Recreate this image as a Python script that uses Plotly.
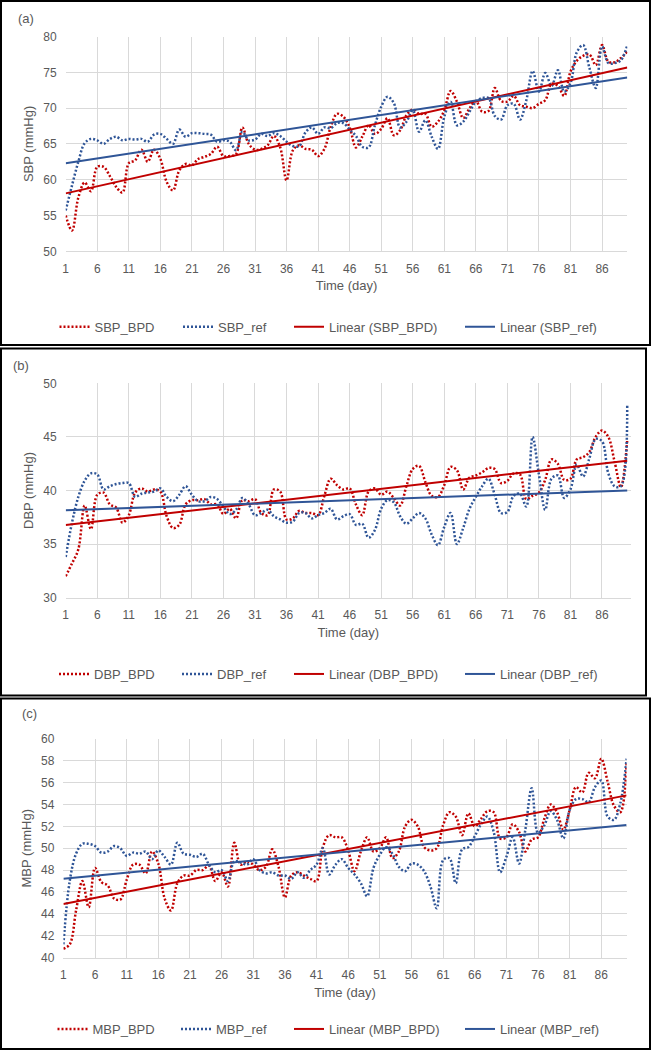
import plotly.graph_objects as go
import numpy as np

days = list(range(1, 91))
tick_days = [1, 6, 11, 16, 21, 26, 31, 36, 41, 46, 51, 56, 61, 66, 71, 76, 81, 86]

sbp_bpd = [55.0, 52.9, 57.5, 59.6, 58.4, 61.8, 61.8, 60.5, 59.0, 58.2,
           62.3, 62.7, 64.2, 62.5, 64.2, 62.9, 59.7, 58.5, 61.3, 62.2,
           62.0, 62.9, 63.2, 63.6, 64.6, 63.3, 63.3, 63.6, 67.3, 65.0,
           64.2, 64.3, 64.8, 66.1, 64.5, 59.9, 64.1, 64.8, 64.3, 64.2,
           63.3, 64.3, 67.4, 69.2, 68.8, 67.3, 64.5, 66.0, 67.6, 66.4,
           67.1, 68.6, 66.2, 66.9, 69.0, 69.8, 69.2, 69.2, 67.4, 68.1,
           69.7, 72.4, 70.9, 68.6, 70.0, 71.0, 69.5, 69.6, 72.8, 71.0,
           70.9, 71.7, 70.4, 70.2, 70.0, 70.6, 71.1, 73.4, 73.1, 71.7,
           75.1, 76.6, 77.3, 77.5, 76.0, 78.8, 76.5, 76.4, 77.0, 77.9]
sbp_ref = [55.7, 59.2, 62.5, 65.1, 65.7, 65.5, 65.0, 65.7, 66.0, 65.5,
           65.7, 65.6, 65.7, 65.3, 66.3, 66.4, 65.7, 65.0, 67.0, 66.0,
           66.5, 66.5, 66.4, 66.3, 65.3, 65.5, 65.3, 64.1, 66.7, 65.5,
           65.6, 66.4, 66.1, 66.5, 66.1, 65.3, 64.7, 64.7, 66.6, 67.3,
           66.4, 67.3, 67.2, 67.9, 67.9, 67.0, 66.1, 64.6, 64.5, 67.6,
           70.2, 71.6, 70.7, 67.3, 68.1, 69.7, 66.7, 68.3, 66.0, 64.3,
           68.8, 70.9, 67.6, 68.1, 69.5, 70.9, 71.4, 71.4, 68.9, 68.4,
           70.4, 70.6, 68.4, 71.1, 75.2, 72.3, 74.9, 73.1, 75.3, 72.3,
           73.5, 77.8, 78.8, 75.6, 72.8, 78.6, 76.3, 76.3, 76.7, 78.8]

dbp_bpd = [32.0, 33.2, 34.5, 38.6, 36.4, 39.6, 39.8, 38.7, 38.4, 37.0,
           37.7, 39.8, 40.2, 39.9, 40.1, 39.9, 37.6, 36.5, 36.8, 38.7,
           39.1, 39.1, 39.2, 38.7, 38.7, 37.8, 38.3, 37.4, 39.1, 39.0,
           39.2, 37.9, 37.7, 40.1, 39.9, 37.3, 37.4, 38.1, 37.9, 37.9,
           37.7, 39.5, 41.1, 40.5, 40.1, 40.2, 38.7, 37.7, 39.9, 40.2,
           39.6, 39.9, 39.3, 38.6, 40.4, 42.0, 42.3, 40.8, 39.5, 39.4,
           40.5, 42.2, 41.9, 40.1, 41.2, 41.4, 41.7, 42.1, 42.0, 40.7,
           40.9, 41.6, 41.5, 39.2, 39.5, 39.8, 41.0, 42.9, 42.5, 41.0,
           41.1, 42.9, 43.1, 43.6, 45.0, 45.6, 45.0, 42.7, 40.3, 44.7]
dbp_ref = [33.8, 37.0, 39.4, 40.9, 41.6, 41.5, 40.1, 40.4, 40.6, 40.7,
           40.7, 39.4, 39.7, 39.8, 39.9, 40.2, 39.4, 39.0, 39.6, 40.4,
           39.6, 39.0, 39.0, 39.4, 39.2, 38.5, 37.8, 38.2, 39.3, 38.7,
           37.7, 37.9, 38.2, 37.6, 37.3, 37.0, 37.1, 37.9, 37.9, 37.4,
           37.7, 37.9, 38.3, 37.3, 37.6, 37.8, 36.8, 36.9, 35.6, 36.3,
           38.3, 39.1, 38.9, 37.6, 36.9, 37.4, 37.9, 37.4, 35.9, 34.9,
           36.6, 37.9, 35.0, 36.5, 38.3, 39.4, 40.4, 41.1, 39.6, 37.9,
           38.0, 39.5, 39.7, 38.5, 45.0, 41.5, 38.2, 41.1, 41.4, 39.3,
           40.1, 42.4, 41.3, 43.0, 44.8, 44.6, 41.6, 40.4, 40.4, 48.1]

mbp_bpd = [40.8, 41.2, 44.3, 47.0, 44.6, 48.2, 46.9, 46.6, 45.4, 45.3,
           47.1, 48.5, 48.5, 47.7, 49.7, 48.6, 45.4, 44.3, 46.8, 47.5,
           47.5, 48.0, 48.0, 48.4, 47.0, 47.8, 46.5, 50.5, 48.5, 48.8,
           48.5, 48.0, 48.3, 49.9, 48.3, 45.5, 47.5, 47.8, 47.5, 47.2,
           47.0, 50.1, 51.2, 51.0, 51.0, 49.8, 47.9, 49.7, 51.0, 49.7,
           50.0, 51.0, 49.1, 49.7, 52.0, 52.6, 52.0, 50.1, 49.8, 50.0,
           52.1, 53.3, 52.9, 51.2, 53.2, 52.0, 52.7, 53.4, 53.3, 50.9,
           51.0, 52.2, 51.5, 49.7, 50.8, 51.0, 52.7, 54.0, 53.3, 51.7,
           53.5, 55.6, 55.1, 56.9, 56.4, 58.2, 56.1, 53.9, 53.3, 57.8]
mbp_ref = [41.2, 47.0, 49.5, 50.4, 50.4, 50.2, 49.6, 49.7, 50.2, 50.0,
           49.3, 49.6, 49.5, 49.7, 49.0, 49.8, 49.2, 48.5, 50.5, 49.5,
           49.4, 49.2, 49.5, 48.5, 47.8, 48.0, 47.0, 48.8, 48.7, 48.5,
           49.0, 48.0, 47.7, 47.8, 47.5, 47.5, 47.2, 47.8, 47.3, 48.0,
           48.5, 50.0, 47.6, 48.5, 49.0, 48.2, 47.6, 46.8, 45.6, 48.2,
           49.4, 50.1, 49.5, 48.3, 47.9, 48.6, 48.5, 47.9, 46.5, 44.5,
           48.9, 49.1, 46.8, 49.9, 50.1, 51.1, 52.2, 52.9, 51.5, 47.8,
           49.2, 51.0, 48.6, 51.7, 55.5, 51.4, 52.1, 53.4, 52.6, 50.9,
           53.5, 54.5, 54.5, 54.2, 55.6, 56.2, 52.9, 52.6, 54.1, 58.2]

W, H = 651, 1050
RED = "#C00000"
BLUE = "#2F5597"
GRID = "#D9D9D9"
TXT = "#595959"
FONT = "Liberation Sans, Arial, sans-serif"
DOT = "2px,2px"


def px(x):
    return x / W


def py(y):
    return 1 - y / H


panels = [
    dict(tag="(a)", name="SBP", bpd=sbp_bpd, ref=sbp_ref, yr=[50, 80], dt=5, xmax=90,
         plot=(65.7, 627.3, 36.5, 251.3), lab=(16, 19), leg=326.7,
         legx=[97.5, 221, 332, 503], box=(1, 650, 1, 345)),
    dict(tag="(b)", name="DBP", bpd=dbp_bpd, ref=dbp_ref, yr=[30, 50], dt=5, xmax=90.6,
         plot=(65.7, 631.0, 383.3, 597.7), lab=(11, 365), leg=674,
         legx=[97, 220, 332, 503], box=(1, 646, 348.5, 695.5)),
    dict(tag="(c)", name="MBP", bpd=mbp_bpd, ref=mbp_ref, yr=[40, 60], dt=2, xmax=90,
         plot=(63.4, 626.6, 739.0, 957.5), lab=(20, 713), leg=1029,
         legx=[95.5, 219, 332, 503], box=(1, 650, 698.5, 1049)),
]

fig = go.Figure()
shapes = []
annotations = []
layout = {}
leg_n = 0

for i, p in enumerate(panels, start=1):
    sfx = "" if i == 1 else str(i)
    xa, ya = "x" + sfx, "y" + sfx
    x0, x1, y0, y1 = p["plot"]
    d = np.array(days, dtype=float)
    series = [
        (p["name"] + "_BPD", p["bpd"], RED, False),
        (p["name"] + "_ref", p["ref"], BLUE, False),
        ("Linear (" + p["name"] + "_BPD)", p["bpd"], RED, True),
        ("Linear (" + p["name"] + "_ref)", p["ref"], BLUE, True),
    ]
    for k, (nm, vals, col, trend) in enumerate(series):
        leg_n += 1
        lg = "legend" if leg_n == 1 else "legend" + str(leg_n)
        if trend:
            c = np.polyfit(d, np.array(vals), 1)
            yv = np.polyval(c, d)
            line = dict(color=col, width=2, dash="solid")
        else:
            yv = vals
            line = dict(color=col, width=2.5, dash=DOT, shape="spline", smoothing=1)
        fig.add_trace(go.Scatter(x=days, y=yv, mode="lines", name=nm, line=line,
                                 xaxis=xa, yaxis=ya, legend=lg, showlegend=True))
        layout[lg] = dict(
            orientation="h", x=px(p["legx"][k] - 43), xanchor="left",
            y=py(p["leg"]), yanchor="middle",
            font=dict(size=13, color=TXT, family=FONT), bgcolor="rgba(0,0,0,0)",
            borderwidth=0,
        )

    layout["xaxis" + sfx] = dict(
        domain=[px(x0), px(x1)], anchor=ya, range=[1, p["xmax"]],
        tickmode="array", tickvals=tick_days + [p["xmax"]],
        ticktext=[str(t) for t in tick_days] + [""],
        showgrid=True, gridcolor=GRID, gridwidth=1, zeroline=False,
        showline=True, linecolor=GRID, linewidth=1, ticks="", automargin=False,
        tickfont=dict(size=12, color=TXT, family=FONT), ticklabelstandoff=6,
        title=dict(text="Time (day)", font=dict(size=13, color=TXT, family=FONT), standoff=6),
    )
    yt = list(range(p["yr"][0], p["yr"][1] + 1, p["dt"]))
    layout["yaxis" + sfx] = dict(
        domain=[py(y1), py(y0)], anchor=xa, range=p["yr"],
        tickmode="array", tickvals=yt,
        showgrid=True, gridcolor=GRID, gridwidth=1, zeroline=False,
        showline=False, ticks="", automargin=False,
        tickfont=dict(size=12, color=TXT, family=FONT), ticklabelstandoff=8,
        title=dict(text=p["name"] + " (mmHg)", font=dict(size=13, color=TXT, family=FONT), standoff=6),
    )
    bx0, bx1, by0, by1 = p["box"]
    shapes.append(dict(type="rect", xref="paper", yref="paper",
                       x0=px(bx0), x1=px(bx1), y0=py(by1), y1=py(by0),
                       line=dict(color="black", width=2), layer="above"))
    annotations.append(dict(text=p["tag"], xref="paper", yref="paper",
                            x=px(p["lab"][0]), y=py(p["lab"][1]), xanchor="left", yanchor="middle",
                            showarrow=False, font=dict(size=13, color=TXT, family=FONT)))

fig.update_layout(
    width=W, height=H, autosize=False, showlegend=True,
    margin=dict(l=0, r=0, t=0, b=0, pad=0, autoexpand=False),
    paper_bgcolor="white", plot_bgcolor="white",
    shapes=shapes, annotations=annotations, **layout,
)

fig.write_html("out.html", config={"displayModeBar": False},
               post_script="document.body.style.margin='0px';document.body.style.overflow='hidden';"
                           "document.documentElement.style.overflow='hidden';")
